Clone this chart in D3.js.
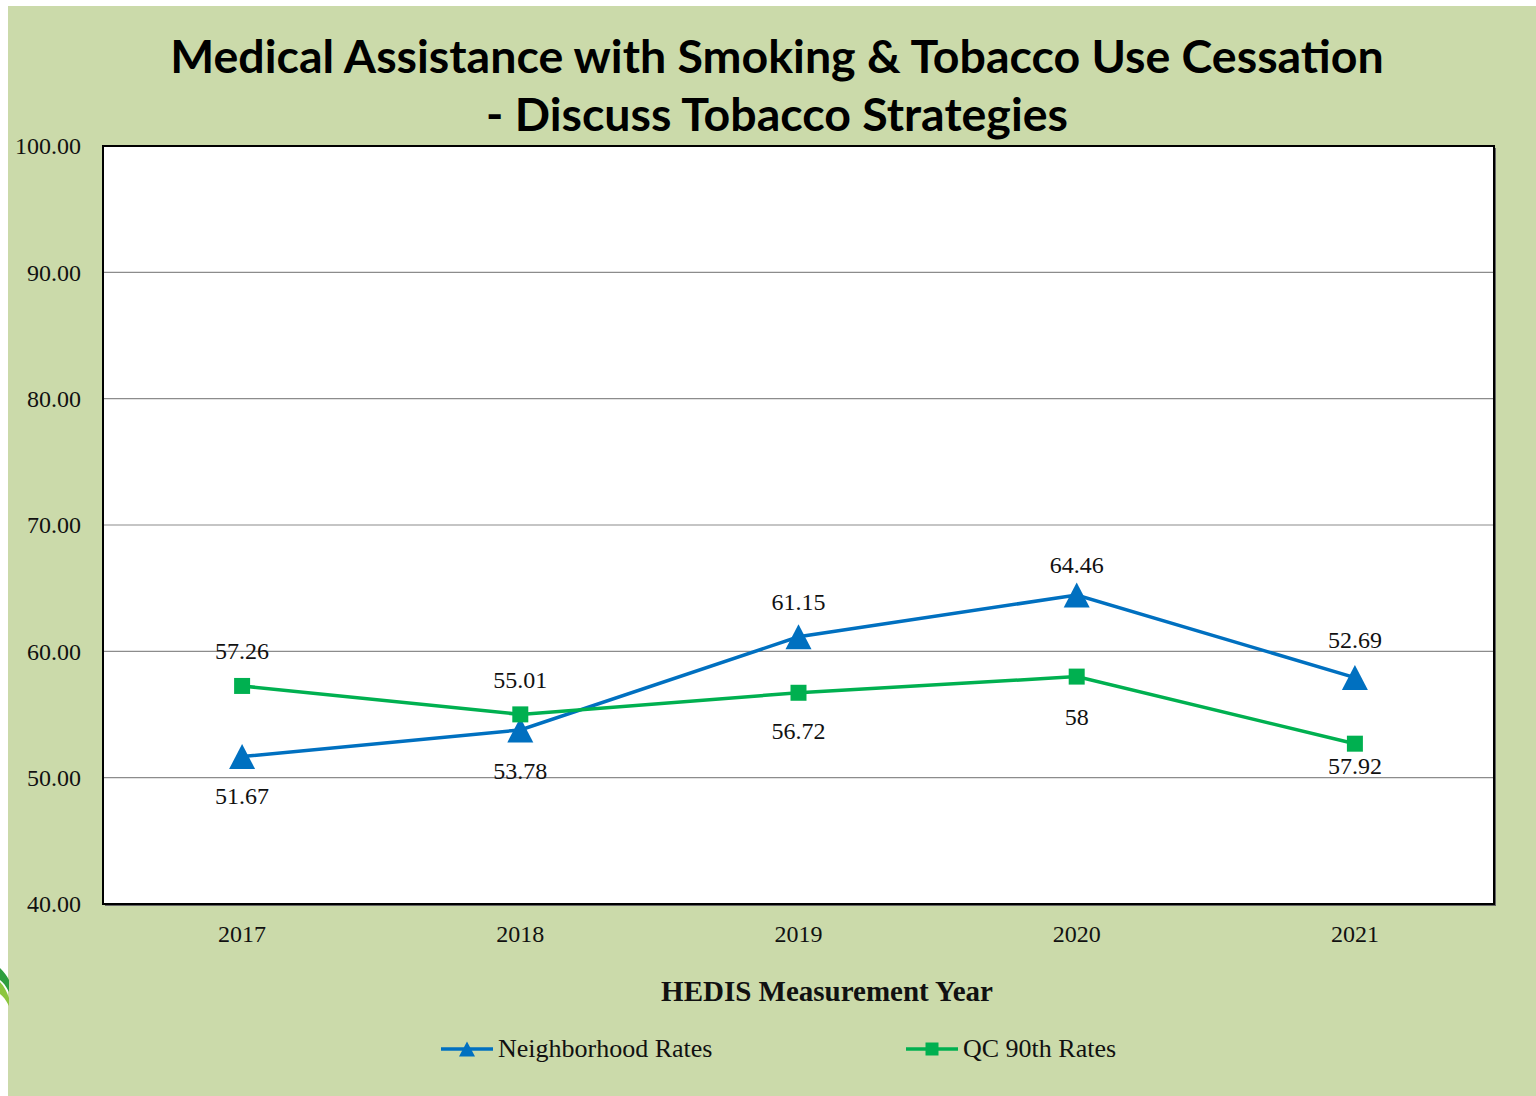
<!DOCTYPE html>
<html>
<head>
<meta charset="utf-8">
<script src="https://cdn.jsdelivr.net/npm/d3@7"></script>
<style>
  html, body { margin: 0; padding: 0; background: #fff; }
  #chart { width: 1536px; height: 1096px; }
</style>
</head>
<body>
<div id="chart"></div>
<script>
var years = ["2017", "2018", "2019", "2020", "2021"];
var neighborhood = [51.67, 53.78, 61.15, 64.46, 57.92];
var qc90 = [57.26, 55.01, 56.72, 58, 52.69];
// labels as printed on the original chart
var neighborhoodLabels = ["51.67", "53.78", "61.15", "64.46", "52.69"];
var qc90Labels = ["57.26", "55.01", "56.72", "58", "57.92"];
var yTicks = [40, 50, 60, 70, 80, 90, 100];

// label placement (vertical offset of label centre from its marker)
var neighborhoodLabelOffset = [40, 41, -34, -30, -37];
var qc90LabelOffset = [-35, -34, 39, 41, 23];

var width = 1536, height = 1096;
var bgColor = "#cbdaaa";
var blue = "#0070c0", green = "#00b050";
var serif = "'Liberation Serif', 'Times New Roman', serif";

var svg = d3.select("#chart").append("svg")
    .attr("width", width)
    .attr("height", height);

svg.append("rect")
    .attr("x", 8).attr("y", 6)
    .attr("width", width - 8).attr("height", height - 6)
    .attr("fill", bgColor);

// bit of the page swoosh peeking in at the left
svg.append("path")
    .attr("d", "M0,968 C4,972 7,976 9,980 L9,992 C6,986 3,982 0,980 Z")
    .attr("fill", "#2e9e3e");
svg.append("path")
    .attr("d", "M0,982 C4,986 7,992 9,998 L9,1006 C6,1000 3,996 0,994 Z")
    .attr("fill", "#8cc63f");

var plot = {left: 103, top: 146, right: 1494, bottom: 904};

var x = d3.scaleBand()
    .domain(years)
    .range([plot.left, plot.right]);

var y = d3.scaleLinear()
    .domain([40, 100])
    .range([plot.bottom, plot.top]);

// plot area with a soft shadow
svg.append("rect")
    .attr("x", plot.left + 2).attr("y", plot.top + 2)
    .attr("width", plot.right - plot.left).attr("height", plot.bottom - plot.top)
    .attr("fill", "#666");
svg.append("rect")
    .attr("x", plot.left).attr("y", plot.top)
    .attr("width", plot.right - plot.left).attr("height", plot.bottom - plot.top)
    .attr("fill", "#fff");

// gridlines
svg.append("g")
  .selectAll("line")
  .data(yTicks.slice(1, -1))
  .join("line")
    .attr("x1", plot.left).attr("x2", plot.right)
    .attr("y1", d => y(d)).attr("y2", d => y(d))
    .attr("stroke", "#8c8c8c")
    .attr("stroke-width", 1.2);

svg.append("rect")
    .attr("x", plot.left).attr("y", plot.top)
    .attr("width", plot.right - plot.left).attr("height", plot.bottom - plot.top)
    .attr("fill", "none")
    .attr("stroke", "#000")
    .attr("stroke-width", 2);

// y axis
var yAxis = d3.axisLeft(y)
    .tickValues(yTicks)
    .tickFormat(d3.format(".2f"))
    .tickSize(0)
    .tickPadding(22);
var ya = svg.append("g")
    .attr("transform", "translate(" + plot.left + ",0)")
    .call(yAxis);
ya.select(".domain").remove();
ya.selectAll("text")
    .attr("font-family", serif)
    .attr("font-size", 24)
    .attr("fill", "#111");

// x axis
var xAxis = d3.axisBottom(x).tickSize(0).tickPadding(21);
var xa = svg.append("g")
    .attr("transform", "translate(0," + plot.bottom + ")")
    .call(xAxis);
xa.select(".domain").remove();
xa.selectAll("text")
    .attr("font-family", serif)
    .attr("font-size", 24)
    .attr("fill", "#111");

// title
var title = svg.append("text")
    .attr("text-anchor", "middle")
    .attr("font-family", "Lato, 'Open Sans', sans-serif")
    .attr("font-weight", "bold")
    .attr("font-size", 46.5)
    .attr("fill", "#000");
title.append("tspan").attr("x", 777).attr("y", 73)
    .text("Medical Assistance with Smoking & Tobacco Use Cessation");
title.append("tspan").attr("x", 777).attr("y", 131)
    .text("- Discuss Tobacco Strategies");

svg.append("text")
    .attr("x", 827).attr("y", 1001)
    .attr("text-anchor", "middle")
    .attr("font-family", serif)
    .attr("font-weight", "bold")
    .attr("font-size", 29)
    .attr("fill", "#111")
    .text("HEDIS Measurement Year");

var line = d3.line()
    .x((d, i) => x(years[i]) + x.bandwidth() / 2)
    .y(d => y(d));

// triangle centred on its bounding box, like the spreadsheet marker
function triangleShape(w, h) {
  return {
    draw: function(ctx) {
      ctx.moveTo(0, -h / 2);
      ctx.lineTo(w / 2, h / 2);
      ctx.lineTo(-w / 2, h / 2);
      ctx.closePath();
    }
  };
}

var triangle = d3.symbol().type(triangleShape(26, 25));
var square = d3.symbol().type(d3.symbolSquare).size(256);

var series = [
  {values: neighborhood, labels: neighborhoodLabels, offs: neighborhoodLabelOffset, color: blue, sym: triangle},
  {values: qc90, labels: qc90Labels, offs: qc90LabelOffset, color: green, sym: square}
];

series.forEach(function(s) {
  svg.append("path")
      .datum(s.values)
      .attr("d", line)
      .attr("fill", "none")
      .attr("stroke", s.color)
      .attr("stroke-width", 3.5);

  svg.append("g")
    .selectAll("path")
    .data(s.values)
    .join("path")
      .attr("transform", (d, i) => "translate(" + (x(years[i]) + x.bandwidth() / 2) + "," + y(d) + ")")
      .attr("d", s.sym)
      .attr("fill", s.color);

  svg.append("g")
    .selectAll("text")
    .data(s.values)
    .join("text")
      .attr("x", (d, i) => x(years[i]) + x.bandwidth() / 2)
      .attr("y", (d, i) => y(d) + s.offs[i])
      .attr("dy", "0.32em")
      .attr("text-anchor", "middle")
      .attr("font-family", serif)
      .attr("font-size", 24)
      .attr("fill", "#111")
      .text((d, i) => s.labels[i]);
});

// legend
var legend = [
  {name: "Neighborhood Rates", color: blue, sym: d3.symbol().type(triangleShape(16, 15)), x: 441},
  {name: "QC 90th Rates", color: green, sym: d3.symbol().type(d3.symbolSquare).size(169), x: 906}
];
var lg = svg.append("g").selectAll("g")
  .data(legend)
  .join("g")
    .attr("transform", d => "translate(" + d.x + ",1049)");
lg.append("line")
    .attr("x1", 0).attr("x2", 52)
    .attr("stroke", d => d.color)
    .attr("stroke-width", 3.5);
lg.append("path")
    .attr("transform", "translate(26,0)")
    .attr("d", d => d.sym())
    .attr("fill", d => d.color);
lg.append("text")
    .attr("x", 57).attr("y", 8)
    .attr("font-family", serif)
    .attr("font-size", 26)
    .attr("fill", "#111")
    .text(d => d.name);
</script>
</body>
</html>
